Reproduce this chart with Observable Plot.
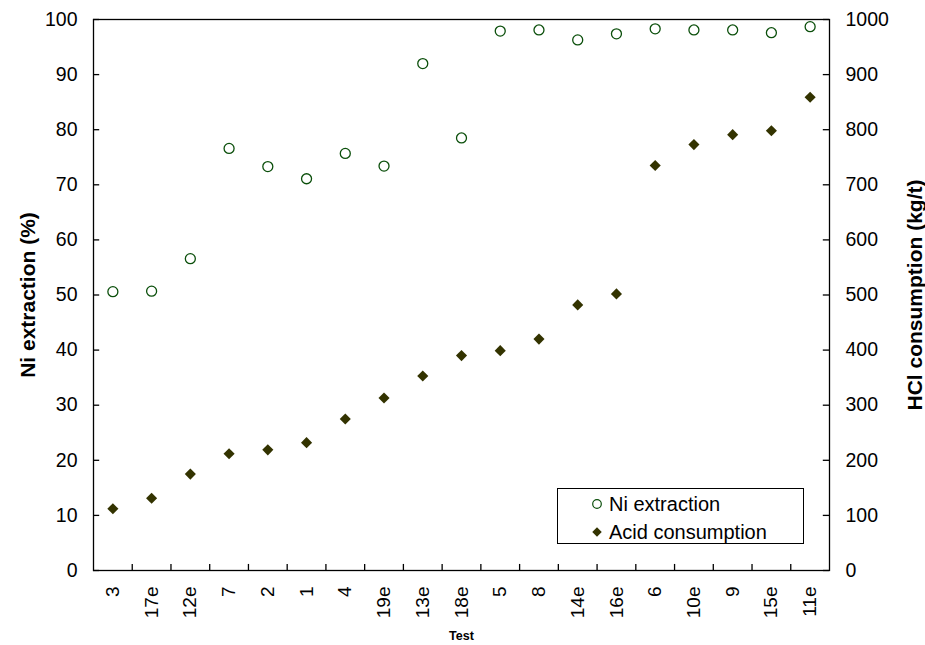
<!DOCTYPE html>
<html>
<head>
<meta charset="utf-8">
<script src="https://cdn.jsdelivr.net/npm/d3@7"></script>
<script src="https://cdn.jsdelivr.net/npm/@observablehq/plot@0.6"></script>
<style>
  body { margin: 0; background: #fff; }
  #wrap { position: relative; width: 925px; height: 645px; background: #fff; }
  #wrap svg.plot { position: absolute; left: 0; top: 0; }
  #legend { position: absolute; left: 557px; top: 488px; }
</style>
</head>
<body>
<div id="wrap"></div>
<script>
// ---- data ----
const tests = ["3","17e","12e","7","2","1","4","19e","13e","18e","5","8","14e","16e","6","10e","9","15e","11e"];
const niExtraction = [50.6, 50.7, 56.6, 76.6, 73.3, 71.1, 75.7, 73.4, 92.0, 78.5, 97.9, 98.1, 96.3, 97.4, 98.3, 98.1, 98.1, 97.6, 98.7];
const acidConsumption = [112, 131, 175, 212, 219, 232, 275, 313, 353, 390, 399, 420, 482, 502, 735, 773, 791, 798, 859];
const leftTicks = [0, 10, 20, 30, 40, 50, 60, 70, 80, 90, 100];
const rightTicks = [0, 100, 200, 300, 400, 500, 600, 700, 800, 900, 1000];
const seriesNames = ["Ni extraction", "Acid consumption"];
const axisTitles = {left: "Ni extraction (%)", right: "HCl consumption (kg/t)", bottom: "Test"};

const niColor = "#0b4f0b";
const acidColor = "#333300";
const font = "'Liberation Sans', Arial, Helvetica, sans-serif";

const n = tests.length;
const rows = tests.map((t, i) => ({i, test: t, ni: niExtraction[i], acid: acidConsumption[i]}));
const ratio = rightTicks[rightTicks.length - 1] / leftTicks[leftTicks.length - 1];
const bounds = d3.range(1, n).map(i => i - 0.5);
const tickLenY = 1.1;   // inward tick length in y units (~6px)
const tickLenX = 0.16;  // inward tick length in x units (~6px)

const chart = Plot.plot({
  width: 925,
  height: 645,
  marginLeft: 93,
  marginRight: 96,
  marginTop: 19,
  marginBottom: 75,
  style: {fontFamily: font, fontSize: "19.5px", color: "#000", background: "transparent", overflow: "visible"},
  x: {type: "linear", domain: [-0.5, n - 0.5], axis: null},
  y: {domain: [leftTicks[0], leftTicks[leftTicks.length - 1]], axis: null},
  marks: [
    Plot.axisY(leftTicks, {anchor: "left", tickSize: 0, tickPadding: 16, label: null, fontSize: 19.5}),
    Plot.axisY(leftTicks, {anchor: "right", tickSize: 0, tickPadding: 16, label: null, fontSize: 19.5,
      tickFormat: d => String(rightTicks[leftTicks.indexOf(d)])}),
    Plot.axisX(d3.range(n), {anchor: "bottom", tickSize: 0, tickPadding: 16, tickRotate: -90, label: null, fontSize: 19,
      tickFormat: i => tests[i]}),
    // inward tick marks
    Plot.ruleX(bounds, {x: d => d, y1: 0, y2: tickLenY, stroke: "#000", strokeWidth: 1.3}),
    Plot.ruleY(leftTicks, {y: d => d, x1: -0.5, x2: -0.5 + tickLenX, stroke: "#000", strokeWidth: 1.3}),
    Plot.ruleY(leftTicks, {y: d => d, x1: n - 0.5 - tickLenX, x2: n - 0.5, stroke: "#000", strokeWidth: 1.3}),
    Plot.frame({stroke: "#000", strokeWidth: 1.3}),
    // data
    Plot.dot(rows, {x: "i", y: "ni", r: 5, stroke: niColor, strokeWidth: 1.3, fill: "none"}),
    Plot.dot(rows, {x: "i", y: d => d.acid / ratio, symbol: "diamond2", r: 5, fill: acidColor, stroke: "none"}),
    // axis titles
    Plot.text([axisTitles.left], {text: d => d, frameAnchor: "left", textAnchor: "middle", rotate: -90, dx: -65,
      fontWeight: "bold", fontSize: 21}),
    Plot.text([axisTitles.right], {text: d => d, frameAnchor: "right", textAnchor: "middle", rotate: -90, dx: 86,
      fontWeight: "bold", fontSize: 21}),
    Plot.text([axisTitles.bottom], {text: d => d, frameAnchor: "bottom", textAnchor: "middle", dy: 69,
      fontWeight: "bold", fontSize: 12.5})
  ]
});
chart.classList.add("plot");
document.getElementById("wrap").appendChild(chart);

// legend box (inside the plot area, bottom right)
const legend = d3.select("#wrap").append("svg")
  .attr("id", "legend").attr("width", 248).attr("height", 57)
  .style("font-family", font);
legend.append("rect").attr("x", 0.5).attr("y", 0.5).attr("width", 246).attr("height", 55)
  .attr("fill", "#fff").attr("stroke", "#000").attr("stroke-width", 1);
legend.append("circle").attr("cx", 40).attr("cy", 16).attr("r", 4.3)
  .attr("fill", "none").attr("stroke", niColor).attr("stroke-width", 1.2);
legend.append("path").attr("d", d3.symbol(d3.symbolDiamond2, Math.PI * 4.3 * 4.3)())
  .attr("transform", "translate(40,44)").attr("fill", acidColor);
legend.selectAll("text.lt").data(seriesNames).join("text")
  .attr("class", "lt")
  .attr("x", 52).attr("y", (d, i) => 16 + i * 28).attr("dy", "0.35em")
  .attr("font-size", 20).attr("fill", "#000").text(d => d);
</script>
</body>
</html>
